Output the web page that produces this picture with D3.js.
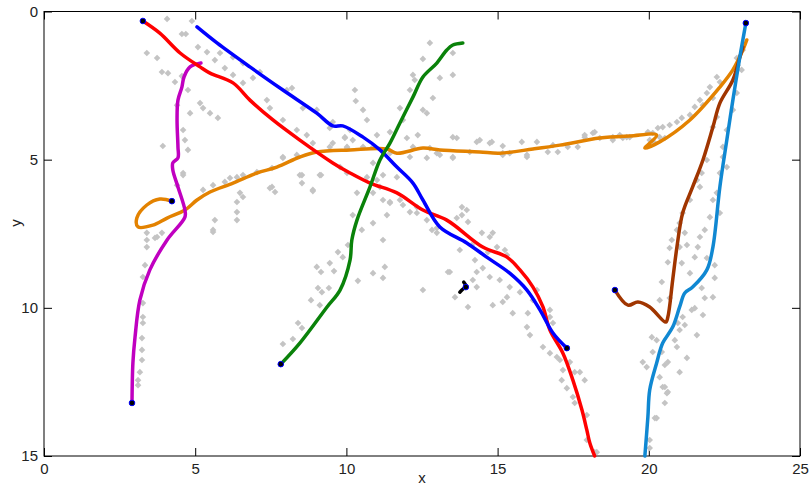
<!DOCTYPE html>
<html lang="en">
<head>
<meta charset="UTF-8">
<script src="https://d3js.org/d3.v7.min.js"></script>
<style>
  body { margin: 0; background: #fff; }
  svg { display: block; font-family: "Liberation Sans", Arial, sans-serif; }
  .axis path, .axis line { stroke: #000; }
  .axis text { font-size: 15px; fill: #222; }
  .track { fill: none; stroke-width: 3.5; stroke-linejoin: round; stroke-linecap: round; }
</style>
</head>
<body>
<svg id="chart" width="811" height="488"></svg>
<script>
// axis ranges and tick values
var xTicks = [0, 5, 10, 15, 20, 25];
var yTicks = [0, 5, 10, 15];

// estimated trajectories (x, y)
var redTrack = [[3.27,0.32],[3.83,0.73],[4.50,1.40],[5.16,1.87],[5.49,2.08],[6.25,2.41],[6.81,2.99],[7.57,3.66],[8.46,4.34],[9.55,5.11],[10.12,5.45],[10.78,5.79],[11.67,6.12],[12.53,6.70],[13.32,7.04],[14.51,7.95],[15.31,8.29],[15.74,8.72],[16.17,9.30],[16.50,9.97],[16.73,10.75],[17.16,11.53],[17.49,12.44],[17.79,13.45],[17.95,14.12],[18.05,14.56],[18.21,15.0]];
var blueTrack = [[5.06,0.52],[5.72,1.06],[6.81,1.87],[7.90,2.65],[9.02,3.43],[9.55,3.86],[9.88,3.86],[10.55,4.24],[11.11,4.67],[11.67,5.25],[12.20,5.79],[12.53,6.36],[13.09,7.27],[13.98,7.81],[14.64,8.29],[15.40,8.83],[15.97,9.40],[16.40,10.07],[16.83,10.85],[17.29,11.36]];
var greenTrack = [[7.83,11.90],[8.46,11.19],[9.36,9.97],[9.79,9.40],[10.12,8.39],[10.18,7.71],[10.35,7.04],[10.78,5.92],[11.11,5.01],[11.44,4.44],[11.77,3.76],[12.20,2.89],[12.53,2.21],[12.99,1.74],[13.32,1.30],[13.52,1.13],[13.85,1.06]];
var magentaTrack = [[2.91,13.21],[2.94,11.86],[3.01,10.99],[3.17,9.74],[3.50,8.72],[4.07,7.71],[4.66,6.94],[4.66,6.70],[4.43,5.92],[4.26,5.35],[4.26,5.11],[4.43,4.94],[4.43,4.57],[4.40,3.66],[4.43,2.99],[4.56,2.55],[4.63,2.21],[4.83,1.87],[5.19,1.74]];
var orangeTrack = [[4.23,6.40],[3.83,6.33],[3.40,6.53],[3.07,6.97],[3.11,7.27],[3.60,7.21],[4.07,6.97],[4.66,6.70],[5.06,6.36],[5.49,6.09],[6.25,5.79],[7.04,5.45],[7.70,5.25],[8.46,4.91],[9.02,4.74],[10.12,4.67],[11.34,4.64],[11.67,4.78],[12.53,4.61],[13.09,4.67],[14.41,4.74],[15.07,4.78],[16.17,4.64],[17.06,4.51],[18.38,4.27],[19.37,4.20],[20.26,4.17],[19.87,4.61],[20.36,4.40],[21.36,3.66],[22.35,2.55],[22.78,1.97],[23.11,1.30],[23.24,0.96]];
var brownTrack = [[18.88,9.40],[19.31,9.91],[19.64,9.80],[20.03,9.97],[20.56,10.48],[20.63,10.31],[20.79,9.06],[20.93,7.95],[21.12,6.80],[21.45,5.92],[21.79,5.01],[22.12,3.90],[22.35,3.09],[22.78,2.31],[23.01,1.54],[23.11,1.20]];
var skyTrack = [[23.21,0.39],[23.01,1.54],[22.78,2.99],[22.58,4.34],[22.35,5.92],[22.12,7.95],[21.92,8.72],[21.45,9.30],[21.19,9.50],[21.02,9.97],[20.79,10.65],[20.46,11.19],[20.26,11.86],[20.03,12.77],[19.97,13.68],[19.87,15.0]];
var blackTrack = [[13.88,9.13],[13.95,9.27],[13.82,9.40],[13.75,9.47]];

var trackNames = ["orange", "magenta", "red", "blue", "green", "brown", "sky", "black"];
var trackColors = ["#e38200", "#c000c0", "#ff0000", "#0000ff", "#0a820a", "#a03500", "#1088d2", "#000000"];
var tracks = [orangeTrack, magentaTrack, redTrack, blueTrack, greenTrack, brownTrack, skyTrack, blackTrack];

// start/end markers
var markers = [[3.27,0.32],[17.29,11.36],[7.83,11.90],[2.91,13.21],[4.23,6.40],[18.88,9.40],[23.21,0.39],[13.95,9.30]];

// gray observations
var observations = [
[4.07,0.25],[4.89,0.32],[4.56,0.76],[4.69,0.76],[5.09,1.20],[3.40,1.40],[3.74,1.57],[3.90,2.04],[4.10,2.08],[4.33,2.38],
[4.56,2.18],[4.76,2.65],[4.40,3.16],[4.83,3.43],[5.39,1.37],[5.65,1.64],[5.98,1.91],[6.25,2.14],[5.82,1.40],[6.25,1.54],
[5.16,3.09],[5.26,3.26],[5.49,3.43],[5.75,3.59],[4.60,4.00],[4.66,4.34],[3.93,4.54],[4.76,4.67],[4.60,5.45],[5.26,6.02],
[5.59,5.86],[5.98,5.75],[6.38,5.59],[6.48,6.12],[6.38,6.43],[6.38,6.77],[5.65,7.04],[5.59,7.37],[3.40,7.47],[3.74,7.61],
[3.90,7.47],[3.40,7.95],[6.58,2.41],[6.91,2.24],[7.14,2.04],[6.58,1.74],[7.37,2.99],[7.47,3.26],[8.03,2.65],[8.20,2.58],
[8.56,3.26],[9.02,3.32],[7.90,3.66],[8.36,4.00],[8.69,4.17],[8.89,4.44],[9.45,3.93],[9.55,4.44],[9.95,4.24],[10.02,4.57],
[8.46,5.52],[9.12,5.52],[8.89,6.02],[7.90,4.91],[7.54,5.92],[7.64,6.09],[7.04,5.42],[6.58,5.52],[6.15,5.62],
[12.76,1.06],[13.52,1.40],[12.53,1.60],[12.20,2.14],[12.26,2.31],[13.52,2.14],[13.09,2.24],[12.10,2.65],[12.86,2.92],[10.28,2.65],
[10.31,3.02],[10.55,3.32],[11.77,3.26],[12.53,3.32],[12.66,3.43],[10.68,3.66],[11.87,3.66],[9.55,3.73],[10.12,4.00],[9.95,4.27],
[10.21,4.34],[11.01,4.17],[11.44,4.07],[12.00,4.27],[12.36,4.17],[13.52,4.24],[13.65,4.27],[14.41,4.34],[14.31,4.40],[14.74,4.44],
[15.17,4.54],[15.80,4.40],[9.45,4.57],[10.02,4.61],[10.55,4.57],[10.88,4.57],[12.20,4.57],[12.76,4.61],[12.99,4.78],[12.66,4.94],
[12.10,4.91],[11.44,4.78],[13.52,4.91],[14.08,4.74],[15.17,4.78],[15.97,4.91],[9.79,5.25],[10.02,5.45],[10.88,5.11],[11.21,5.52],
[11.01,5.69],[11.67,5.59],[10.68,5.59],[11.11,5.92],[10.35,6.12],[10.88,6.12],[11.21,6.36],[11.44,6.43],[11.77,6.36],[12.33,6.60],
[12.10,6.77],[10.21,6.87],[13.82,6.60],[13.98,6.70],[13.82,6.87],[13.65,6.97],
[14.02,7.10],[12.83,7.37],[12.99,7.47],[12.66,7.04],[12.33,6.80],[11.87,6.53],[14.48,7.47],[14.84,7.47],[14.74,7.61],[14.15,7.88],
[13.75,8.05],[14.68,8.12],[14.98,7.95],[15.24,8.05],[15.31,8.22],[14.25,8.39],[14.51,8.66],[14.31,8.79],[14.18,9.06],[13.42,8.79],
[14.74,8.96],[15.07,9.06],[15.40,9.30],[15.31,9.64],[15.17,9.80],[14.84,9.91],[12.53,9.40],[13.59,9.64],[14.02,9.97],[15.74,9.47],
[16.30,9.40],[16.17,9.74],[16.00,10.18],[15.50,10.18],[15.97,10.65],[16.73,10.07],[16.73,10.31],[16.83,10.51],[16.07,10.92],[16.50,11.32],
[16.73,11.53],[16.96,11.66],[17.06,11.76],[17.39,11.83],[17.55,12.17],[17.72,12.17],[17.16,12.10],[14.31,9.30],
[17.12,12.44],[17.29,12.71],[17.49,13.01],[17.55,13.21],[17.95,13.62],[17.95,14.46],[18.28,14.87],[20.53,12.67],[20.60,12.88],[20.53,13.21],
[20.20,13.72],[20.03,14.46],[20.03,14.73],
[20.76,7.71],[20.69,7.98],[21.26,7.88],[21.62,7.95],[20.63,8.46],[20.43,9.13],[20.36,9.74],[20.69,9.67],[21.09,8.49],[21.36,8.83],
[21.52,8.29],[21.92,8.32],[22.18,8.56],[21.75,9.33],[21.85,9.67],[22.18,8.99],[22.12,9.64],[21.42,10.07],[21.52,10.01],[21.79,10.24],
[21.12,10.31],[20.96,10.51],[21.19,10.58],[21.02,10.75],[21.59,10.92],[20.10,10.99],[20.26,11.09],[20.86,11.09],[20.93,11.32],[20.43,11.49],
[20.13,11.49],[21.26,11.69],[19.80,11.83],[19.93,12.00],[20.63,11.83],[20.53,11.93],[20.36,12.34],[21.02,12.17],[20.46,12.67],[20.63,12.84],
[20.26,13.72],[17.88,12.44],[18.21,14.87],
[23.11,1.30],[22.91,1.57],[22.94,1.81],[23.07,1.97],[22.25,2.21],[22.35,2.38],[22.02,2.55],[21.92,2.75],[22.12,2.92],[21.69,2.99],
[21.79,3.16],[21.52,3.22],[21.36,3.49],[21.09,3.59],[20.93,3.73],[20.69,3.83],[20.46,3.90],[20.30,3.93],[20.13,4.10],[20.36,4.24],
[20.03,4.34],[20.20,4.44],[20.53,4.27],[18.38,4.27],[18.81,4.24],[19.14,4.27],[19.37,4.24],[18.15,4.10],[17.88,4.24],[22.25,3.56],
[22.12,3.90],[22.58,4.00],[22.78,3.32],[22.91,2.75],[21.92,5.01],[21.75,5.45],[21.59,5.69],[21.69,5.92],[22.45,4.57],[22.45,4.91],
[22.58,5.25],[22.25,6.12],[22.12,6.36],[22.02,6.94],[21.85,7.37],[21.69,7.61],[21.36,6.36],[21.12,6.80],[21.02,7.14],[20.93,7.37],
[21.19,7.47],[21.02,7.95],[22.35,5.45],[22.35,6.80],
[7.90,4.94],[8.36,4.84],[8.53,5.52],[8.53,5.79],[9.16,5.52],[7.54,5.28],[7.47,5.96],[6.58,6.26],[6.38,7.04],[5.59,7.44],
[4.60,5.52],[4.40,5.86],[3.40,7.71],[3.67,7.64],[3.34,8.56],[3.27,8.96],[3.27,9.84],[3.27,10.31],[3.27,10.51],[3.24,11.02],
[3.24,11.42],[3.24,11.76],[3.17,12.17],[3.11,12.44],[3.11,12.61],
[8.89,6.06],[10.51,7.37],[10.88,7.14],[11.34,6.87],[11.21,7.71],[10.05,7.88],[9.72,8.12],[9.88,8.29],[9.45,8.49],[9.59,8.76],
[9.02,8.62],[9.16,8.79],[9.06,9.33],[9.19,9.47],[9.42,9.33],[8.83,9.74],[9.12,9.91],[10.38,9.09],[10.88,8.83],[11.21,8.99],
[11.27,8.62],[13.36,8.79],[8.40,10.51],[8.53,10.68],[8.23,11.05],[7.90,11.22],[11.44,6.46],[12.99,7.31],
[13.52,4.94],[13.09,4.84],[14.81,4.40],[15.17,4.84],[15.40,4.78],[15.97,4.84],[16.30,4.40],[16.66,4.74],[16.99,4.74],[16.83,4.51],
[17.32,4.57],[17.65,4.57],[17.88,4.17],[18.21,4.07],[19.04,4.17],[18.81,4.34],[19.27,4.24],[19.97,4.07]
];

var svg = d3.select("#chart");
var plotLeft = 44, plotTop = 11.5, plotRight = 800, plotBottom = 456;

var x = d3.scaleLinear().domain([0, 25]).range([plotLeft, plotRight]);
var y = d3.scaleLinear().domain([0, 15]).range([plotTop, plotBottom]);

// box
svg.append("rect")
  .attr("x", plotLeft).attr("y", plotTop)
  .attr("width", plotRight - plotLeft).attr("height", plotBottom - plotTop)
  .attr("fill", "none").attr("stroke", "#000");

// axes, ticks pointing inward
svg.append("g").attr("class", "axis")
  .attr("transform", "translate(0," + plotBottom + ")")
  .call(d3.axisBottom(x).tickValues(xTicks).tickSize(-8).tickPadding(7).tickFormat(d3.format("d")))
  .call(function(g){ g.select(".domain").remove(); });
svg.append("g").attr("class", "axis")
  .attr("transform", "translate(0," + plotTop + ")")
  .call(d3.axisTop(x).tickValues(xTicks).tickSize(-8).tickFormat(""))
  .call(function(g){ g.select(".domain").remove(); });
svg.append("g").attr("class", "axis")
  .attr("transform", "translate(" + plotLeft + ",0)")
  .call(d3.axisLeft(y).tickValues(yTicks).tickSize(-8).tickPadding(6).tickFormat(d3.format("d")))
  .call(function(g){ g.select(".domain").remove(); });
svg.append("g").attr("class", "axis")
  .attr("transform", "translate(" + plotRight + ",0)")
  .call(d3.axisRight(y).tickValues(yTicks).tickSize(-8).tickFormat(""))
  .call(function(g){ g.select(".domain").remove(); });

// axis labels
svg.append("text").attr("x", 422).attr("y", 483).attr("text-anchor", "middle")
  .attr("font-size", 15).attr("fill", "#222").text("x");
svg.append("text").attr("transform", "translate(21,223) rotate(-90)").attr("text-anchor", "middle")
  .attr("font-size", 15).attr("fill", "#222").text("y");

var plot = svg.append("g");

// gray diamonds (squares turned 45 degrees)
plot.selectAll("path.obs").data(observations).enter().append("path")
  .attr("class", "obs")
  .attr("d", d3.symbol().type(d3.symbolSquare).size(22))
  .attr("transform", function(d){ return "translate(" + x(d[0]) + "," + y(d[1]) + ") rotate(45)"; })
  .attr("fill", "#c4c4c4");

var line = d3.line().x(function(d){ return x(d[0]); }).y(function(d){ return y(d[1]); }).curve(d3.curveCatmullRom.alpha(0.5));

plot.selectAll("path.track").data(tracks).enter().append("path")
  .attr("class", "track")
  .attr("d", line)
  .attr("stroke", function(d, i){ return trackColors[i]; })
  .attr("stroke-width", function(d, i){ return trackNames[i] == "black" ? 2.5 : 3.6; });

plot.selectAll("circle").data(markers).enter().append("circle")
  .attr("cx", function(d){ return x(d[0]); })
  .attr("cy", function(d){ return y(d[1]); })
  .attr("r", 2.8)
  .attr("fill", "#000")
  .attr("stroke", "#0000ff")
  .attr("stroke-width", 1);
</script>
</body>
</html>
